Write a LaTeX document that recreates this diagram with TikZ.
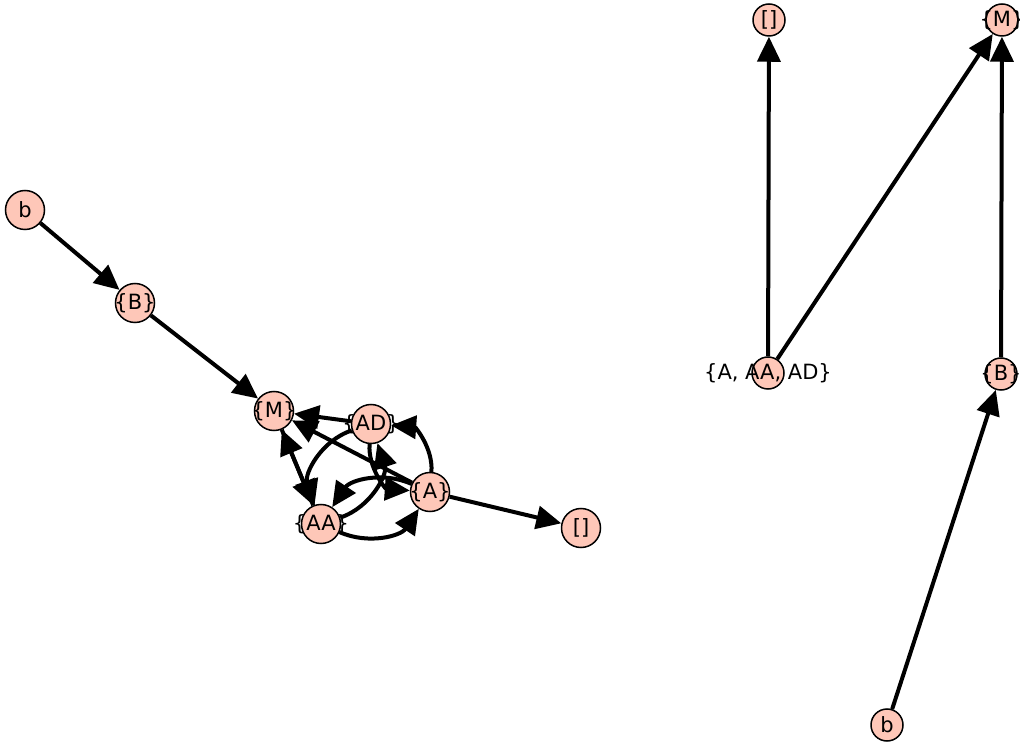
\documentclass[tikz,border=0pt]{standalone}
\usepackage{fontspec}
\setmainfont{DejaVu Sans}
\usepackage{xcolor}
\usepackage{tikz}
\usetikzlibrary{arrows.meta}
\definecolor{vfill}{HTML}{FEC7B8}
\tikzset{
    vtx/.style={draw, circle, fill=vfill, line width=1.5pt, inner sep=0pt, minimum size=39pt},
    svtx/.style={vtx, minimum size=32pt},
    arc/.style={line width=4pt, -{Triangle[length=25pt,width=23pt]}}}

\begin{document}
\begin{tikzpicture}[x=1pt,y=1pt,font=\fontsize{21}{25}\selectfont]
\useasboundingbox (0,0) rectangle (1020,745);
% left part
\node[vtx, label={center:b}] (Lb) at (25,535) {};
\node[vtx, label={center:{\{B\}}}] (LB) at (135,442) {};
\node[vtx, label={center:{\{M\}}}] (LM) at (274,334) {};
\node[vtx, label={center:{\{AD\}}}] (LAD) at (371,321) {};
\node[vtx, label={center:{\{A\}}}] (LA) at (430,253) {};
\node[vtx, label={center:{\{AA\}}}] (LAA) at (321,221) {};
\node[vtx, label={center:{[]}}] (Le) at (581,217) {};
\draw [arc] (Lb) -- (LB);
\draw [arc] (LB) -- (LM);
\draw [arc] (LAD) -- (LM);
\draw [arc] (LA) -- (LM);
\draw [arc] (LM) -- (LAA);
\draw [arc] (LAA) -- (LM);
\draw [arc] (LA) -- (Le);
\draw [arc] (LA) to[bend right=45] (LAD);
\draw [arc] (LAD) to[bend right=45] (LA);
\draw [arc] (LAA) to[bend right=40] (LA);
\draw [arc] (LA) to[bend right=40] (LAA);
\draw [arc] (LAA) to[bend right=45] (LAD);
\draw [arc] (LAD) to[bend right=45] (LAA);
% right part
\node[svtx, label={center:{[]}}] (Re) at (769,725) {};
\node[svtx, label={center:{\{M\}}}] (RM) at (1002,725) {};
\node[svtx, label={center:{\{A, AA, AD\}}}] (Rall) at (768,372) {};
\node[svtx, label={center:{\{B\}}}] (RB) at (1001,371) {};
\node[svtx, label={center:b}] (Rb) at (887,20) {};
\draw [arc] (Rall) -- (Re);
\draw [arc] (Rall) -- (RM);
\draw [arc] (RB) -- (RM);
\draw [arc] (Rb) -- (RB);
\end{tikzpicture}
\end{document}
